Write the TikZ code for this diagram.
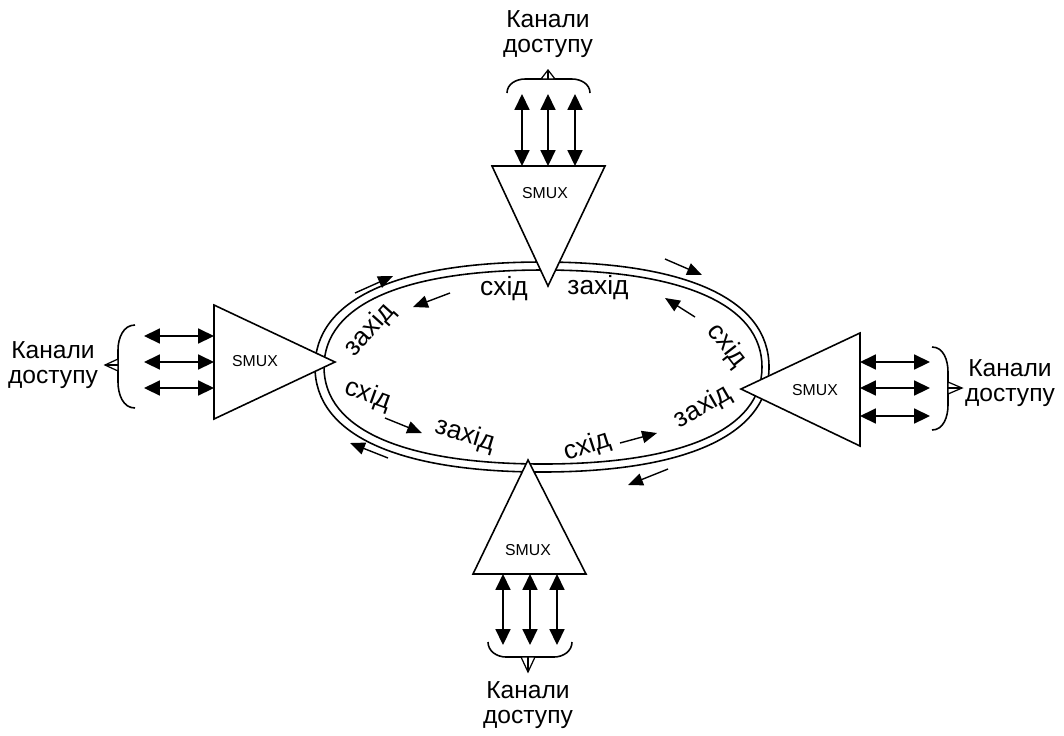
\documentclass[tikz,border=0pt]{standalone}
\usepackage{fontspec}
\setmainfont{Liberation Sans}
\usetikzlibrary{arrows.meta}
\begin{document}
\begin{tikzpicture}[x=0.02cm,y=-0.02cm, line width=0.9pt,
  dbl/.style={{Triangle[length=9pt,width=8.5pt]}-{Triangle[length=9pt,width=8.5pt]}, line width=0.9pt},
  ringarrow/.style={-{Triangle[length=8.5pt,width=7pt]}, line width=0.8pt},
  lbl/.style={font=\fontsize{15}{18}\selectfont, inner sep=0pt},
  chan/.style={font=\fontsize{14}{14.7}\selectfont, align=center, inner sep=0pt},
  smux/.style={font=\fontsize{9}{10}\selectfont, inner sep=0pt},
  tri/.style={draw, fill=white, line width=0.9pt, line join=miter},
  bracepath/.style={line width=0.9pt},
  tipmark/.style={line width=0.7pt, fill=white, line join=miter}
]
\useasboundingbox (0,0) rectangle (1064,735);

% ring (outer and inner)
\draw (769,367) .. controls (769,434.2) and (687.3,472) .. (542,472)
  .. controls (396.7,472) and (315,434.2) .. (315,367)
  .. controls (315,299.8) and (396.7,262) .. (542,262)
  .. controls (687.3,262) and (769,299.8) .. (769,367) -- cycle;
\draw (762,367) .. controls (762,429.1) and (683.2,464) .. (543,464)
  .. controls (402.8,464) and (324,429.1) .. (324,367)
  .. controls (324,304.9) and (402.8,270) .. (543,270)
  .. controls (683.2,270) and (762,304.9) .. (762,367) -- cycle;

% triangles
\coordinate (tA) at (492,166); \coordinate (tB) at (605,166); \coordinate (tC) at (548,286);
\coordinate (lA) at (214,305); \coordinate (lB) at (214,419); \coordinate (lC) at (335,362);
\coordinate (rA) at (860,333); \coordinate (rB) at (860,446); \coordinate (rC) at (741,389);
\coordinate (bA) at (473,574); \coordinate (bB) at (586,574); \coordinate (bC) at (528,460);
\draw[tri] (tA) -- (tB) -- (tC) -- cycle;
\draw[tri] (lA) -- (lC) -- (lB) -- cycle;
\draw[tri] (rA) -- (rC) -- (rB) -- cycle;
\draw[tri] (bA) -- (bB) -- (bC) -- cycle;
\node[smux] (smuxT) at (545,193) {SMUX};
\node[smux] (smuxL) at (255,361) {SMUX};
\node[smux] (smuxR) at (815,390) {SMUX};
\node[smux] (smuxB) at (528,550) {SMUX};

% access channel arrows: top
\foreach \x [count=\i] in {522,548,575}{
  \coordinate (ta\i) at (\x,94); \coordinate (tb\i) at (\x,166);
  \draw[dbl] (ta\i) -- (tb\i);
}
% left
\foreach \y [count=\i] in {336,362,388}{
  \coordinate (la\i) at (144,\y); \coordinate (lb\i) at (214,\y);
  \draw[dbl] (la\i) -- (lb\i);
}
% right
\foreach \y [count=\i] in {362,388,416}{
  \coordinate (ra\i) at (860,\y); \coordinate (rb\i) at (930,\y);
  \draw[dbl] (ra\i) -- (rb\i);
}
% bottom
\foreach \x [count=\i] in {503,530,557}{
  \coordinate (ba\i) at (\x,574); \coordinate (bb\i) at (\x,645);
  \draw[dbl] (ba\i) -- (bb\i);
}

% braces
\draw[bracepath] (507,93) to[out=90,in=180] (525,79) -- (572,79) to[out=0,in=90] (590,93);
\draw[bracepath] (135,325) to[out=180,in=90] (118,350) -- (118,382) to[out=-90,in=180] (135,408);
\draw[bracepath] (932,347) to[out=0,in=90] (948,372) -- (948,405) to[out=-90,in=0] (932,430);
\draw[bracepath] (488,642) to[out=-90,in=180] (506,657) -- (554,657) to[out=0,in=-90] (572,642);

% brace tips
\draw[tipmark] (548,70) -- (541,79) -- (555,79) -- cycle; \draw[line width=0.7pt] (548,70) -- (548,79);
\draw[tipmark] (105,365) -- (118,359) -- (118,371) -- cycle; \draw[line width=0.7pt] (105,365) -- (118,365);
\draw[tipmark] (962,388) -- (948,382) -- (948,394) -- cycle; \draw[line width=0.7pt] (962,388) -- (948,388);
\draw[tipmark] (528,672) -- (521,657) -- (535,657) -- cycle; \draw[line width=0.7pt] (528,672) -- (528,657);

% ring direction arrows
\coordinate (a1s) at (355,293); \coordinate (a1e) at (393,276);
\coordinate (a2s) at (665,259); \coordinate (a2e) at (702,275);
\coordinate (a3s) at (388,458); \coordinate (a3e) at (350,443);
\coordinate (a4s) at (668,469); \coordinate (a4e) at (628,485);
\coordinate (b1s) at (450,293); \coordinate (b1e) at (413,307);
\coordinate (b2s) at (695,317); \coordinate (b2e) at (665,298);
\coordinate (b3s) at (385,418); \coordinate (b3e) at (422,433);
\coordinate (b4s) at (620,443); \coordinate (b4e) at (657,433);
\foreach \n in {a1,a2,a3,a4,b1,b2,b3,b4}{ \draw[ringarrow] (\n s) -- (\n e); }

% ring labels
\node[lbl] (l1) at (504,289) {схід};
\node[lbl] (l2) at (598,288) {захід};
\node[lbl, rotate=48] (l3) at (370,330) {захід};
\node[lbl, rotate=-20] (l4) at (368,395) {схід};
\node[lbl, rotate=-17] (l5) at (465,435) {захід};
\node[lbl, rotate=18] (l6) at (587,447) {схід};
\node[lbl, rotate=30] (l7) at (703,407) {захід};
\node[lbl, rotate=-52] (l8) at (727,346) {схід};

% channel labels
\node[chan] (cT) at (548,34) {Канали\\доступу};
\node[chan] (cL) at (53,365) {Канали\\доступу};
\node[chan] (cR) at (1010,383) {Канали\\доступу};
\node[chan] (cB) at (528,705) {Канали\\доступу};
\end{tikzpicture}
\end{document}
